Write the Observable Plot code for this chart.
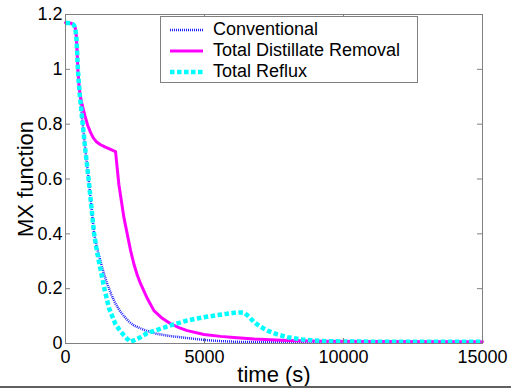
<!DOCTYPE html>
<html>
<head>
<meta charset="utf-8">
<script src="https://cdn.jsdelivr.net/npm/d3@7"></script>
<script src="https://cdn.jsdelivr.net/npm/@observablehq/plot@0.6"></script>
<style>
  body { margin: 0; background: white; }
  #wrap { position: relative; width: 511px; height: 390px; font-family: "Liberation Sans", Arial, sans-serif; }
  #legend { position: absolute; left: 160px; top: 16px; width: 256px; height: 65px; border: 1px solid #808080; background: white; }
  .row { position: absolute; left: 0; height: 21px; display: flex; align-items: center; font-size: 18px; color: black; white-space: nowrap; }
  .row svg { margin-left: 9px; margin-right: 10px; }
  #bottomline { position: absolute; left: 0; top: 386px; width: 511px; height: 2px; background: #606060; }
</style>
</head>
<body>
<div id="wrap"></div>
<script>
// ---- data ----
const seriesNames = ["Conventional", "Total Distillate Removal", "Total Reflux"];
const seriesColors = ["#2020ff", "#ff00ff", "#00ffff"];

const tConv = [0,200,300,350,390,420,444,480,520,570,620,720,830,930,1030,1130,1260,1380,1500,1650,1800,1950,2100,2280,2460,2700,2940,3300,3780,4380,4980,5500,6180,7000,8000,9500,12000,15000];
const vConv = [1.17,1.168,1.162,1.15,1.12,1.06,1.0,0.95,0.9,0.85,0.8,0.7,0.6,0.5,0.4,0.35,0.3,0.255,0.218,0.178,0.145,0.12,0.1,0.08,0.066,0.055,0.045,0.035,0.027,0.02,0.013,0.009,0.006,0.005,0.004,0.003,0.003,0.003];

const tTDR = [0,200,300,350,390,420,444,480,520,600,700,800,900,1000,1100,1260,1440,1620,1800,1860,1920,2010,2100,2220,2340,2460,2580,2700,2940,3180,3480,3780,4080,4380,4980,5580,6050,6780,7980,9300,11000,15000];
const vTDR = [1.17,1.168,1.162,1.15,1.12,1.06,1.0,0.95,0.91,0.87,0.83,0.795,0.77,0.75,0.737,0.725,0.716,0.708,0.700,0.64,0.58,0.52,0.46,0.4,0.34,0.29,0.25,0.218,0.165,0.12,0.092,0.072,0.058,0.047,0.033,0.026,0.022,0.016,0.011,0.008,0.007,0.006];

const tTR = [0,200,300,350,390,420,444,480,520,570,620,720,830,930,1030,1110,1200,1300,1400,1480,1560,1680,1800,1950,2100,2220,2340,2500,2700,2940,3300,3780,4380,4980,5500,6060,6300,6450,6600,6780,7000,7260,7620,7980,8500,8940,9500,10500,12000,15000];
const vTR = [1.17,1.168,1.162,1.15,1.12,1.06,1.0,0.95,0.9,0.85,0.8,0.7,0.6,0.5,0.4,0.35,0.3,0.25,0.2,0.165,0.13,0.1,0.07,0.048,0.03,0.017,0.006,0.013,0.023,0.038,0.05,0.066,0.084,0.096,0.104,0.112,0.113,0.111,0.098,0.078,0.062,0.047,0.033,0.023,0.015,0.011,0.008,0.007,0.006,0.006];

const xTicks = [0, 5000, 10000, 15000];
const yTicks = [0, 0.2, 0.4, 0.6, 0.8, 1, 1.2];
const xLabel = "time (s)";
const yLabel = "MX function";

// ---- build ----
const toRows = (ts, vs) => ts.map((t, i) => ({t, v: vs[i]}));
const conv = toRows(tConv, vConv);
const tdr = toRows(tTDR, vTDR);
const tr = toRows(tTR, vTR);

const W = 511, H = 390, mL = 65, mR = 29, mT = 14, mB = 47;
const fw = W - mL - mR, fh = H - mT - mB, tk = 5;
const axisColor = "#808080";

const chart = Plot.plot({
  width: W, height: H,
  marginLeft: mL, marginRight: mR, marginTop: mT, marginBottom: mB,
  style: {fontFamily: "Liberation Sans, Arial, sans-serif", fontSize: "18px", background: "white", color: "black", overflow: "visible"},
  x: {domain: [0, 15000]},
  y: {domain: [0, 1.2]},
  marks: [
    Plot.line(conv, {x: "t", y: "v", stroke: seriesColors[0], strokeWidth: 2.5, strokeDasharray: "1,1", strokeLinecap: "butt"}),
    Plot.line(tdr, {x: "t", y: "v", stroke: seriesColors[1], strokeWidth: 3}),
    Plot.line(tr, {x: "t", y: "v", stroke: seriesColors[2], strokeWidth: 4.5, strokeDasharray: "4.5,2.5", strokeLinecap: "butt", strokeLinejoin: "miter"}),
    Plot.frame({stroke: axisColor}),
    Plot.tickY(yTicks, {y: d => d, stroke: axisColor, insetRight: fw - tk}),
    Plot.tickY(yTicks, {y: d => d, stroke: axisColor, insetLeft: fw - tk}),
    Plot.tickX(xTicks, {x: d => d, stroke: axisColor, insetTop: fh - tk}),
    Plot.tickX(xTicks, {x: d => d, stroke: axisColor, insetBottom: fh - tk}),
    Plot.axisX(xTicks, {tickSize: 0, tickPadding: 7, tickFormat: d => String(d), label: null}),
    Plot.axisY(yTicks, {tickSize: 0, tickPadding: 3, tickFormat: d => String(d), label: null}),
    Plot.text([xLabel], {text: d => d, frameAnchor: "bottom", textAnchor: "middle", lineAnchor: "middle", dy: 31, fontSize: 22, fill: "black"}),
    Plot.text([yLabel], {text: d => d, frameAnchor: "left", textAnchor: "middle", lineAnchor: "middle", dx: -40, rotate: -90, fontSize: 22, fill: "black"})
  ]
});

const wrap = document.getElementById("wrap");
wrap.appendChild(chart);

// legend overlay
const legend = document.createElement("div");
legend.id = "legend";
const styles = [
  {w: 2.5, dash: "1,1"},
  {w: 3, dash: null},
  {w: 4.5, dash: "4.5,2.5"}
];
seriesNames.forEach((name, i) => {
  const row = document.createElement("div");
  row.className = "row";
  row.style.top = (2 + i * 21) + "px";
  const s = d3.create("svg").attr("width", 33).attr("height", 10);
  const ln = s.append("line").attr("x1", 0).attr("x2", 33).attr("y1", 5).attr("y2", 5)
    .attr("stroke", seriesColors[i]).attr("stroke-width", styles[i].w);
  if (styles[i].dash) ln.attr("stroke-dasharray", styles[i].dash);
  row.appendChild(s.node());
  const span = document.createElement("span");
  span.textContent = name;
  row.appendChild(span);
  legend.appendChild(row);
});
wrap.appendChild(legend);

const bl = document.createElement("div");
bl.id = "bottomline";
wrap.appendChild(bl);
</script>
</body>
</html>
